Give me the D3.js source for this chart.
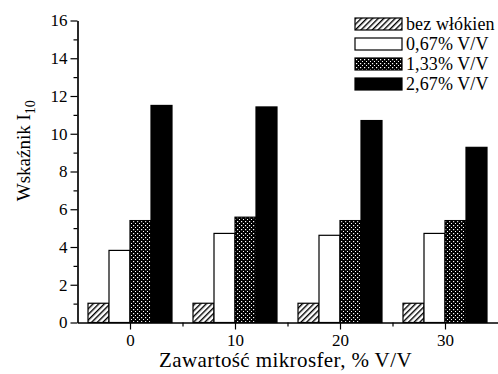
<!DOCTYPE html>
<html>
<head>
<meta charset="utf-8">
<script src="https://cdn.jsdelivr.net/npm/d3@7"></script>
<style>
  html, body { margin: 0; padding: 0; background: #fff; }
  svg { display: block; }
  svg text { font-family: 'Liberation Serif', 'DejaVu Serif', 'Times New Roman', Times, serif; }
</style>
</head>
<body>
<svg id="chart" width="498" height="374"></svg>
<script>
// ─── Data ────────────────────────────────────────────────────────────────────
const categories = [0, 10, 20, 30];                 // Zawartość mikrosfer, % V/V
const seriesNames = ['bez włókien', '0,67% V/V', '1,33% V/V', '2,67% V/V'];
const bezWlokien = [1.02, 1.02, 1.02, 1.02];
const v067 = [3.82, 4.72, 4.62, 4.72];
const v133 = [5.4, 5.58, 5.4, 5.4];
const v267 = [11.5, 11.42, 10.7, 9.28];
const yTicks = [0, 2, 4, 6, 8, 10, 12, 14, 16];

const seriesValues = [bezWlokien, v067, v133, v267];

// ─── Style ───────────────────────────────────────────────────────────────────
const FILLS = ['url(#hatch)', '#fff', 'url(#cross)', '#000'];

const svg = d3.select('#chart');

// patterns
const defs = svg.append('defs');
const hatch = defs.append('pattern').attr('id', 'hatch')
  .attr('patternUnits', 'userSpaceOnUse').attr('width', 4).attr('height', 4)
  .attr('patternTransform', 'rotate(45)');
hatch.append('rect').attr('width', 4).attr('height', 4).attr('fill', '#fff');
hatch.append('rect').attr('x', 0).attr('width', 1.4).attr('height', 4).attr('fill', '#000');

const cross = defs.append('pattern').attr('id', 'cross')
  .attr('patternUnits', 'userSpaceOnUse').attr('width', 4).attr('height', 4);
cross.append('rect').attr('width', 4).attr('height', 4).attr('fill', '#000');
cross.append('rect').attr('x', 1).attr('y', 1).attr('width', 1.2).attr('height', 1.2).attr('fill', '#fff');
cross.append('rect').attr('x', 3).attr('y', 3).attr('width', 1.2).attr('height', 1.2).attr('fill', '#fff');

// ─── Scales ──────────────────────────────────────────────────────────────────
const x = d3.scaleLinear().domain([-5, 35]).range([77.5, 497.5]);
const y = d3.scaleLinear().domain([0, 16]).range([322.5, 20.5]);
const inner = d3.scaleBand().domain(d3.range(seriesNames.length))
  .range([-4, 4]).paddingInner(0).paddingOuter(0);

// ─── Bars ────────────────────────────────────────────────────────────────────
const bars = svg.append('g');
seriesValues.forEach((vals, si) => {
  bars.selectAll(null).data(categories).enter().append('rect')
    .attr('x', (c) => x(c + inner(si)))
    .attr('y', (c, i) => y(vals[i]))
    .attr('width', x(inner.bandwidth()) - x(0))
    .attr('height', (c, i) => y(0) - y(vals[i]))
    .attr('fill', FILLS[si])
    .attr('stroke', '#000').attr('stroke-width', 1.2);
});

// ─── Axes ────────────────────────────────────────────────────────────────────
const styleAxis = (g) => {
  g.attr('font-family', null);
  g.selectAll('path').attr('stroke', '#000').attr('stroke-width', 1.2);
  g.selectAll('line').attr('stroke', '#000').attr('stroke-width', 1.2);
  g.selectAll('text').attr('fill', '#000').attr('font-size', 17);
};

// minor ticks
svg.append('g').attr('transform', `translate(${x(-5)},0)`)
  .call(d3.axisLeft(y).tickValues(d3.range(1, 16, 2)).tickSize(4).tickFormat('').tickSizeOuter(0))
  .call(styleAxis);
svg.append('g').attr('transform', `translate(0,${y(0)})`)
  .call(d3.axisBottom(x).tickValues([5, 15, 25]).tickSize(4).tickFormat('').tickSizeOuter(0))
  .call(styleAxis);

svg.append('g').attr('transform', `translate(${x(-5)},0)`)
  .call(d3.axisLeft(y).tickValues(yTicks).tickSize(7).tickPadding(3).tickSizeOuter(0))
  .call(styleAxis);
svg.append('g').attr('transform', `translate(0,${y(0)})`)
  .call(d3.axisBottom(x).tickValues(categories).tickSize(7).tickPadding(4).tickSizeOuter(0))
  .call(styleAxis);

// axis titles
svg.append('text')
  .attr('x', x(15) - 2).attr('y', 367)
  .attr('text-anchor', 'middle').attr('font-size', 21)
  .attr('letter-spacing', 0.4)
  .text('Zawartość mikrosfer, % V/V');

const yLab = svg.append('text')
  .attr('transform', `translate(30,${y(9.1)}) rotate(-90)`)
  .attr('text-anchor', 'middle').attr('font-size', 19);
yLab.append('tspan').text('Wskaźnik I');
yLab.append('tspan').attr('font-size', 14).attr('dy', 5).text('10');

// ─── Legend ──────────────────────────────────────────────────────────────────
const legend = svg.append('g').attr('transform', 'translate(355,18)');
seriesNames.forEach((name, i) => {
  const g = legend.append('g').attr('transform', `translate(0,${i * 20})`);
  g.append('rect').attr('width', 47).attr('height', 12)
    .attr('fill', FILLS[i]).attr('stroke', '#000').attr('stroke-width', 1.2);
  g.append('text').attr('x', 51).attr('y', 12)
    .attr('font-size', 18).attr('letter-spacing', 0.1).attr('fill', '#000')
    .text(name);
});
</script>
</body>
</html>
